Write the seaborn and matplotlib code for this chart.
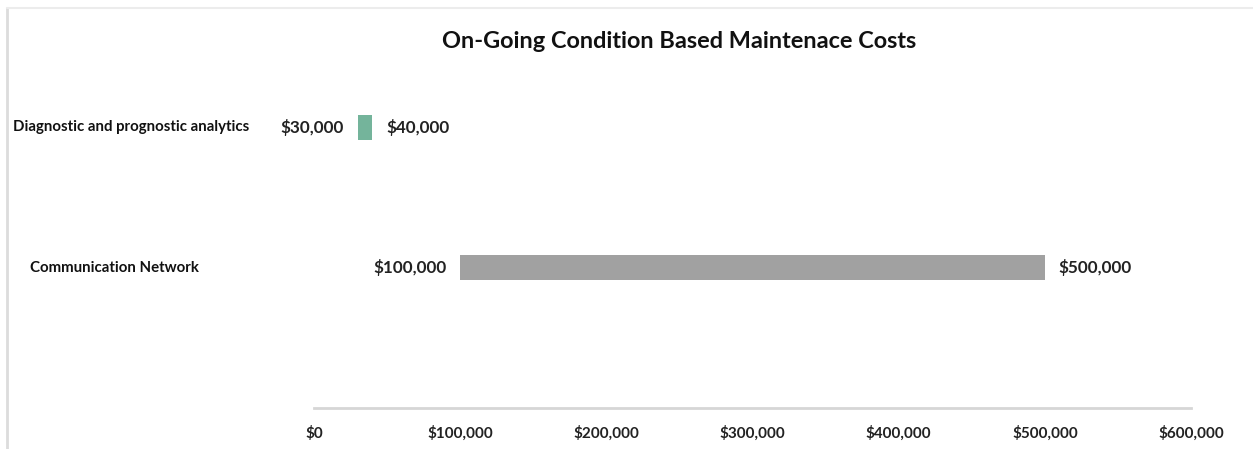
import matplotlib
matplotlib.use("Agg")
import matplotlib.pyplot as plt
import matplotlib.transforms as mtransforms
from matplotlib.lines import Line2D
import seaborn as sns
import pandas as pd

# ---- data ----
categories = ["Diagnostic and prognostic analytics", "Communication Network"]
low_values = [30000, 100000]
high_values = [40000, 500000]
bar_colors = ["#74b49b", "#a1a1a1"]
tick_values = [0, 100000, 200000, 300000, 400000, 500000, 600000]
tick_labels = ["$0", "$100,000", "$200,000", "$300,000", "$400,000", "$500,000", "$600,000"]
title = "On-Going Condition Based Maintenace Costs"

df = pd.DataFrame({
    "category": categories,
    "low": low_values,
    "high": high_values,
})
df["span"] = df["high"] - df["low"]

sns.set_theme(style="white")
plt.rcParams["font.family"] = ["Lato", "DejaVu Sans"]

W, H = 1253, 449
fig = plt.figure(figsize=(W / 100, H / 100), dpi=100)
ax = fig.add_axes([314 / W, (H - 408) / H, 877 / W, (408 - 57) / H])

sns.barplot(data=df, x="span", y="category", orient="h", left=df["low"].values,
            width=0.18, color="#a1a1a1", edgecolor="none", ax=ax)
for patch, c in zip(ax.patches, bar_colors):
    patch.set_facecolor(c)

ax.set_xlim(0, 600000)
ax.set_ylim(2, -0.5)
ax.set_xticks(tick_values)
ax.set_xticklabels(tick_labels, fontsize=11, fontweight="bold", color="#222222")
ax.tick_params(axis="x", length=0, pad=13)
ax.set_yticks([])
ax.set_xlabel("")
ax.set_ylabel("")
for s in ["top", "right", "left"]:
    ax.spines[s].set_visible(False)
ax.spines["bottom"].set_color("#d6d6d6")
ax.spines["bottom"].set_linewidth(2)

# value labels
for i, (lo, hi) in enumerate(zip(low_values, high_values)):
    ax.annotate(f"${lo:,}", xy=(lo, i), xytext=(-10, 0), textcoords="offset points",
                ha="right", va="center", fontsize=12.3, fontweight="bold", color="#222222")
    ax.annotate(f"${hi:,}", xy=(hi, i), xytext=(10, 0), textcoords="offset points",
                ha="left", va="center", fontsize=12.3, fontweight="bold", color="#222222")

# category labels (left aligned in the margin)
trans = mtransforms.blended_transform_factory(fig.transFigure, ax.transData)
label_x = [13 / W, 30 / W]
for i, (cat, lx) in enumerate(zip(categories, label_x)):
    ax.text(lx, i, cat, transform=trans, ha="left", va="center",
            fontsize=10.8, fontweight="bold", color="#111111")

fig.text(679 / W, (H - 42) / H, title, ha="center", va="center",
         fontsize=16.9, fontweight="bold", color="#111111")

# light frame
fig.add_artist(Line2D([7 / W, 7 / W], [0, (H - 8) / H], transform=fig.transFigure,
                      color="#dcdcdc", lw=2))
fig.add_artist(Line2D([7 / W, 1], [(H - 8) / H, (H - 8) / H], transform=fig.transFigure,
                      color="#ececec", lw=1.5))

fig.savefig("out.png", dpi=100, facecolor="white")
